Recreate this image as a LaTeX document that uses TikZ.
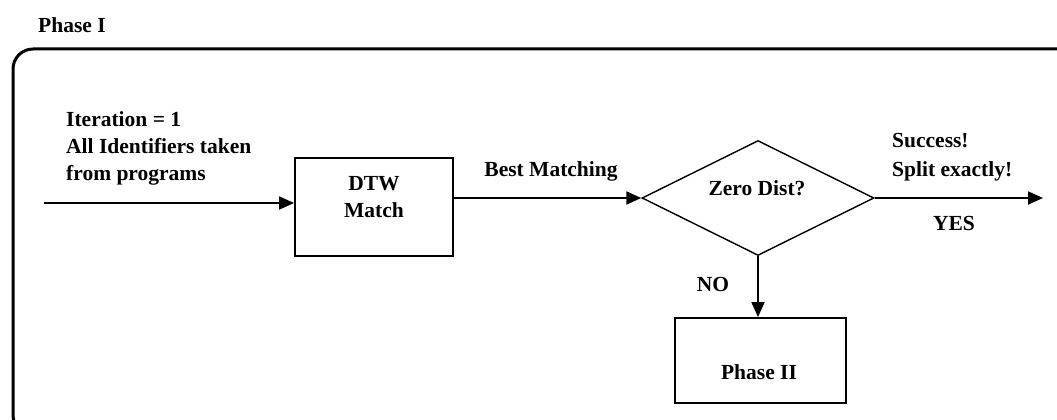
\documentclass[tikz,border=0pt]{standalone}
\usepackage{fontspec}
\setmainfont{Liberation Serif}
\usetikzlibrary{shapes.geometric,arrows.meta}

\tikzset{
  x=1pt, y=-1pt,
  lbl/.style={font=\bfseries\fontsize{21.5}{27}\selectfont, inner sep=0pt},
  procbox/.style={draw, line width=1.8pt, inner sep=0pt},
  decision/.style={draw, diamond, line width=1.4pt, inner sep=0pt},
  flow/.style={line width=1.8pt, -{Triangle[length=15pt,width=13pt]}},
  frame/.style={line width=3pt, rounded corners=20pt}
}

\begin{document}
\begin{tikzpicture}
  \useasboundingbox (0,0) rectangle (1057,420);
  \clip (0,0) rectangle (1057,420);

  % outer phase frame, running past the right and bottom edges
  \draw[frame] (13,49) rectangle (1090,435);
  \node[lbl, anchor=west] (ph1) at (38,25) {Phase I};

  % input description
  \node[lbl, anchor=west, align=left] (inp) at (66,148)
    {Iteration = 1\\All Identifiers taken\\from programs};
  \coordinate (start) at (44,203);

  % DTW matching step
  \node[procbox, minimum width=158pt, minimum height=98pt] (dtw) at (374,207) {};
  \node[lbl, align=center] (dtwtxt) at (374,197) {DTW\\Match};

  % decision
  \node[decision, minimum width=232pt, minimum height=115pt] (dia) at (758,198) {};
  \node[lbl] (diatxt) at (757,188) {Zero Dist?};

  % second phase
  \node[procbox, minimum width=171pt, minimum height=85pt] (ph2) at (760.5,360.5) {};
  \node[lbl] (ph2txt) at (759,372) {Phase II};

  \coordinate (done) at (1043,198);

  % connectors
  \draw[flow] (start) -- (start -| dtw.west);
  \draw[flow] (dtw.east |- dia.west) -- (dia.west);
  \draw[flow] (dia.east) -- (done);
  \draw[flow] (dia.south) -- (dia.south |- ph2.north);

  % connector labels
  \node[lbl] (bm) at (551,171) {Best Matching};
  \node[lbl, anchor=west, align=left, font=\bfseries\fontsize{21.5}{29}\selectfont] (succ) at (892,157.5)
    {Success!\\Split exactly!};
  \node[lbl] (yes) at (954,223) {YES};
  \node[lbl] (no) at (713,284) {NO};
\end{tikzpicture}
\end{document}
